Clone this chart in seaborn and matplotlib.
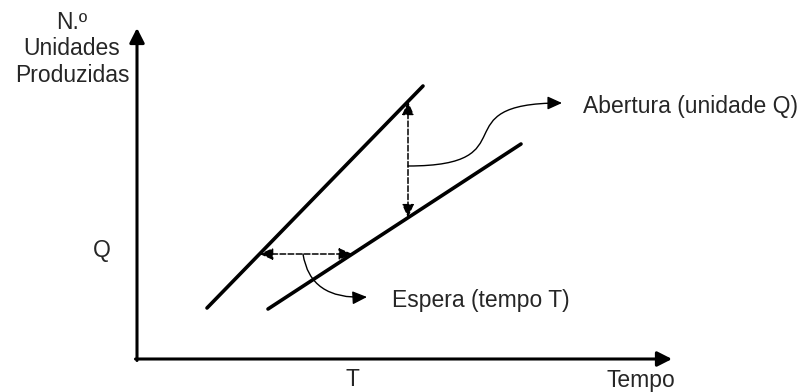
import numpy as np
import pandas as pd
import matplotlib.pyplot as plt
import seaborn as sns
from matplotlib.patches import FancyArrowPatch
from matplotlib.path import Path

# diagram units: origin at the corner of the axes, 1 unit ~ 1 px
linha1_x = [70, 286]
linha1_y = [51, 273]
linha2_x = [131, 384]
linha2_y = [50, 215]

Q = 105            # level of the "espera" arrow
x_abertura = 271   # where the "abertura" arrow sits
y_curva_ab = 193   # start of the curved pointer on the abertura arrow
x_curva_es = 166   # start of the curved pointer on the espera arrow

x_max, y_max = 535, 331

df = pd.DataFrame({
    "x": linha1_x + linha2_x,
    "y": linha1_y + linha2_y,
    "serie": ["1", "1", "2", "2"],
})

sns.set_style("white")
plt.rcParams["font.family"] = ["Liberation Sans", "DejaVu Sans"]
plt.rcParams["font.size"] = 16.5

fig = plt.figure(figsize=(8.04, 3.92), dpi=100)
ax = fig.add_axes([0, 0, 1, 1])
ax.set_axis_off()

# axes with arrow heads
eixo = dict(arrowstyle="-|>,head_length=0.55,head_width=0.28", lw=2.2,
            color="k", shrinkA=0, shrinkB=0, mutation_scale=16)
ax.annotate("", xy=(x_max, 0), xytext=(-1.5, 0), arrowprops=eixo)
ax.annotate("", xy=(0, y_max), xytext=(0, -1.5), arrowprops=eixo)

sns.lineplot(data=df, x="x", y="y", hue="serie", palette=["black", "black"],
             lw=2.6, legend=False, ax=ax)
ax.set_xlim(-137, 667)
ax.set_ylim(-33, 359)

# points where the dashed arrows meet the lines
y_topo = np.interp(x_abertura, linha1_x, linha1_y)
y_base = np.interp(x_abertura, linha2_x, linha2_y)
x_esq = np.interp(Q, linha1_y, linha1_x)
T = np.interp(Q, linha2_y, linha2_x)

tracejado = dict(arrowstyle="<|-|>,head_length=0.5,head_width=0.22", lw=1.1,
                 linestyle="--", color="k", shrinkA=0, shrinkB=0,
                 mutation_scale=16)
ax.annotate("", xy=(x_abertura, y_topo), xytext=(x_abertura, y_base),
            arrowprops=tracejado)
ax.annotate("", xy=(x_esq, Q), xytext=(T, Q), arrowprops=tracejado)

# curved pointers to the labels
seta = "-|>,head_length=0.55,head_width=0.25"
p0 = (x_abertura, y_curva_ab)
p3 = (425, 256)
dx = p3[0] - p0[0]
curva_ab = Path([p0, (p0[0] + 0.8 * dx, p0[1]), (p3[0] - 0.8 * dx, p3[1]), p3],
                [Path.MOVETO, Path.CURVE4, Path.CURVE4, Path.CURVE4])
ax.add_patch(FancyArrowPatch(path=curva_ab, arrowstyle=seta, mutation_scale=16,
                             lw=1.0, color="k", shrinkA=0, shrinkB=0))

curva_es = Path([(x_curva_es, Q), (173, 59), (230, 62)],
                [Path.MOVETO, Path.CURVE3, Path.CURVE3])
ax.add_patch(FancyArrowPatch(path=curva_es, arrowstyle=seta, mutation_scale=16,
                             lw=1.0, color="k", shrinkA=0, shrinkB=0))

# texts
ax.text(-65, 277, "N.º\nUnidades\nProduzidas", ha="center", va="baseline",
        multialignment="center")
ax.text(-35, 102, "Q", ha="center", va="baseline")
ax.text(T, -27, "T", ha="center", va="baseline")
ax.text(538, -28, "Tempo", ha="right", va="baseline")
ax.text(446, 246, "Abertura (unidade Q)", ha="left", va="baseline")
ax.text(255, 52, "Espera (tempo T)", ha="left", va="baseline")

fig.savefig("out.png", dpi=100)
